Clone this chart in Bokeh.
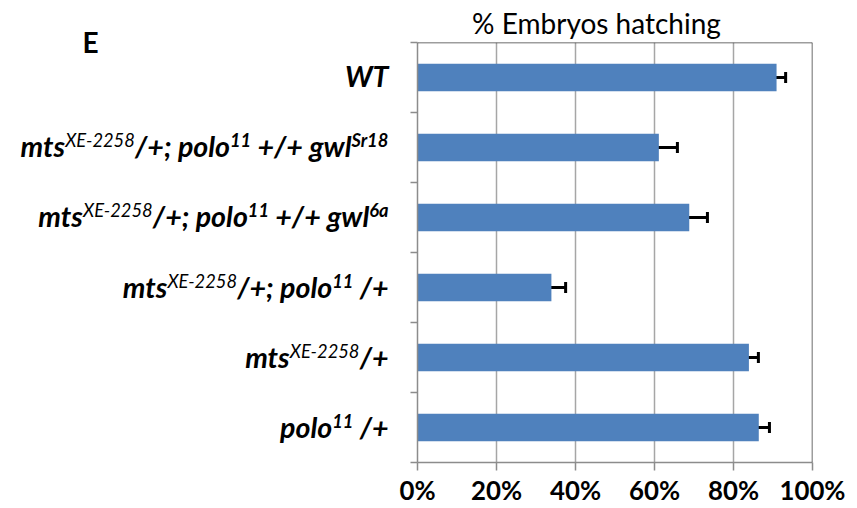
import glob
import os
import struct
import subprocess

from bokeh.core.properties import value
from bokeh.embed import file_html
from bokeh.layouts import row
from bokeh.models import (ColumnDataSource, CustomJSTickFormatter, FixedTicker,
                          NumeralTickFormatter, Range1d, Span, TeeHead, Whisker)
from bokeh.plotting import figure
from bokeh.resources import INLINE

# ---------------- data (top to bottom, as in the figure) ----------------
# each category label is a list of (text, role): "b" = normal, "s" = superscript, "sb" = bold superscript
category_parts = [
    [("WT", "b")],
    [("mts", "b"), ("XE-2258", "s"), ("/+; polo", "b"), ("11", "sb"), (" +/+ gwl", "b"), ("Sr18", "sb")],
    [("mts", "b"), ("XE-2258", "s"), ("/+; polo", "b"), ("11", "sb"), (" +/+ gwl", "b"), ("6a", "sb")],
    [("mts", "b"), ("XE-2258", "s"), ("/+; polo", "b"), ("11", "sb"), (" /+", "b")],
    [("mts", "b"), ("XE-2258", "s"), ("/+", "b")],
    [("polo", "b"), ("11", "sb"), (" /+", "b")],
]
hatching = [0.909, 0.611, 0.688, 0.339, 0.839, 0.864]
hatching_err = [0.023, 0.047, 0.046, 0.036, 0.024, 0.027]
x_ticks = [0.0, 0.2, 0.4, 0.6, 0.8, 1.0]
title_text = "% Embryos hatching"
panel_letter = "E"

FONT = "Lato"


# ---------------- font metrics (for placing superscripts) ----------------
def find_font(fc_pattern, names):
    try:
        out = subprocess.run(["fc-match", "-f", "%{file}", fc_pattern], capture_output=True,
                             text=True, timeout=10).stdout.strip()
        if out and os.path.basename(out) in names:
            return out
    except Exception:
        pass
    for root in ["/usr/share/fonts", "/usr/local/share/fonts",
                 os.path.expanduser("~/.fonts"), os.path.expanduser("~/.local/share/fonts")]:
        for n in names:
            hits = glob.glob(os.path.join(root, "**", n), recursive=True)
            if hits:
                return hits[0]
    return None


def load_metrics(path):
    data = open(path, "rb").read()
    num_tables = struct.unpack(">H", data[4:6])[0]
    tables = {}
    for i in range(num_tables):
        tag, _cs, off, ln = struct.unpack(">4sIII", data[12 + 16 * i:28 + 16 * i])
        tables[tag.decode("latin1")] = (off, ln)
    off = tables["head"][0]
    upem = struct.unpack(">H", data[off + 18:off + 20])[0]
    off = tables["hhea"][0]
    nhm = struct.unpack(">H", data[off + 34:off + 36])[0]
    off = tables["hmtx"][0]
    adv = [struct.unpack(">H", data[off + 4 * i:off + 4 * i + 2])[0] for i in range(nhm)]
    coff = tables["cmap"][0]
    nsub = struct.unpack(">H", data[coff + 2:coff + 4])[0]
    sub = None
    for i in range(nsub):
        pid, eid, so = struct.unpack(">HHI", data[coff + 4 + 8 * i:coff + 12 + 8 * i])
        fmt = struct.unpack(">H", data[coff + so:coff + so + 2])[0]
        if fmt == 4 and pid in (0, 3):
            sub = coff + so
            break
    cmap = {}
    if sub is not None:
        seg_x2 = struct.unpack(">H", data[sub + 6:sub + 8])[0]
        segs = seg_x2 // 2
        ends = struct.unpack(">%dH" % segs, data[sub + 14:sub + 14 + seg_x2])
        so = sub + 16 + seg_x2
        starts = struct.unpack(">%dH" % segs, data[so:so + seg_x2])
        do = so + seg_x2
        deltas = struct.unpack(">%dh" % segs, data[do:do + seg_x2])
        ro = do + seg_x2
        ros = struct.unpack(">%dH" % segs, data[ro:ro + seg_x2])
        for i in range(segs):
            for c in range(max(starts[i], 32), min(ends[i], 0x2FF) + 1):
                if ros[i] == 0:
                    g = (c + deltas[i]) & 0xFFFF
                else:
                    addr = ro + 2 * i + ros[i] + 2 * (c - starts[i])
                    g = struct.unpack(">H", data[addr:addr + 2])[0]
                    if g:
                        g = (g + deltas[i]) & 0xFFFF
                cmap[c] = g

    def width(s, size):
        tot = 0
        for ch in s:
            g = cmap.get(ord(ch), 0)
            tot += adv[g] if g < len(adv) else adv[-1]
        return tot * size / upem
    return width


def approx_width(s, size):
    tab = {"m": 0.82, "w": 0.75, "W": 0.95, "l": 0.25, "i": 0.25, "t": 0.35, "r": 0.37,
           "s": 0.42, " ": 0.25, "/": 0.35, "+": 0.58, ";": 0.27, "-": 0.33, "%": 0.8}
    tot = 0
    for ch in s:
        if ch in tab:
            tot += tab[ch]
        elif ch.isdigit():
            tot += 0.55
        elif ch.isupper():
            tot += 0.65
        else:
            tot += 0.53
    return tot * size


def metrics_for(fc_pattern, names):
    try:
        path = find_font(fc_pattern, names)
        if path:
            return load_metrics(path)
    except Exception:
        pass
    return approx_width


w_bold_italic = metrics_for("Lato:style=Bold Italic", ["Lato-BoldItalic.ttf", "Lato-BoldItalic.otf"])
w_italic = metrics_for("Lato:style=Italic", ["Lato-Italic.ttf", "Lato-Italic.otf"])
w_regular = metrics_for("Lato:style=Regular", ["Lato-Regular.ttf", "Lato-Regular.otf"])
w_bold = metrics_for("Lato:style=Bold", ["Lato-Bold.ttf", "Lato-Bold.otf"])

SUP_RATIO = 0.64


def part_width(text, role, base):
    if role == "b":
        return w_bold_italic(text, base)
    if role == "sb":
        return w_bold_italic(text, base * SUP_RATIO)
    return w_italic(text, base * SUP_RATIO)


# fit the fonts so texts span like the original
longest = max(category_parts, key=lambda parts: sum(part_width(t, r, 10.0) for t, r in parts))
unit_w = sum(part_width(t, r, 1.0) for t, r in longest)
BASE = max(18.0, min(30.0, 368.0 / unit_w)) if unit_w > 0 else 24.0
SUP = BASE * SUP_RATIO
TITLE_SIZE = max(18.0, min(28.0, 283.0 / max(w_regular(title_text, 1.0), 1e-6)))
TITLE_W = w_regular(title_text, TITLE_SIZE)
TICK_SIZE = max(18.0, min(30.0, 66.0 / max(w_bold("100%", 1.0), 1e-6)))

# ---------------- layout geometry (pixels) ----------------
TOTAL_W, H = 856, 507
FRAME_L, FRAME_R, FRAME_T, FRAME_B = 417, 812, 40, 462
LABEL_W = 395                       # width of the label panel on the left
MAIN_W = TOTAL_W - LABEL_W
n = len(category_parts)
y_pos = [n - 1 - i for i in range(n)]
px_per_cat = (FRAME_B - FRAME_T) / n

# ---------------- main chart ----------------
p = figure(width=MAIN_W, height=H, x_range=Range1d(0, 1), y_range=Range1d(-0.5, n - 0.5),
           output_backend="svg", toolbar_location=None,
           min_border_left=FRAME_L - LABEL_W, min_border_right=TOTAL_W - FRAME_R,
           min_border_top=FRAME_T, min_border_bottom=H - FRAME_B)
p.outline_line_color = None
p.background_fill_color = "white"
p.border_fill_color = "white"

# title, centred where the original one sits (455..738 px)
p.title.text = title_text
p.title.align = "left"
p.title.offset = max(0.0, 38 + (283 - TITLE_W) / 2)
p.title.text_font = FONT
p.title.text_font_style = "normal"
p.title.text_font_size = f"{TITLE_SIZE:.1f}px"
p.title.text_color = "black"
try:
    p.title.standoff = 6
except Exception:
    pass

# grid
p.xgrid.ticker = FixedTicker(ticks=x_ticks)
p.xgrid.grid_line_color = "#A6A6A6"
p.xgrid.grid_line_width = 1.5
p.ygrid.grid_line_color = None

# x axis
p.xaxis.ticker = FixedTicker(ticks=x_ticks)
p.xaxis.formatter = NumeralTickFormatter(format="0%")
p.xaxis.axis_line_color = "#8C8C8C"
p.xaxis.axis_line_width = 1.5
p.xaxis.major_tick_line_color = "#8C8C8C"
p.xaxis.major_tick_line_width = 1.5
p.xaxis.major_tick_in = 0
p.xaxis.major_tick_out = 8
p.xaxis.minor_tick_line_color = None
p.xaxis.major_label_text_font = FONT
p.xaxis.major_label_text_font_style = "bold"
p.xaxis.major_label_text_font_size = f"{TICK_SIZE:.1f}px"
p.xaxis.major_label_text_color = "black"
p.xaxis.major_label_standoff = 4

# y axis: ticks between categories, labels drawn in the left panel (they carry superscripts)
p.yaxis.ticker = FixedTicker(ticks=[k - 0.5 for k in range(n + 1)])
p.yaxis.formatter = CustomJSTickFormatter(code="return ''")
p.yaxis.axis_line_color = "#8C8C8C"
p.yaxis.axis_line_width = 1.5
p.yaxis.major_tick_line_color = "#8C8C8C"
p.yaxis.major_tick_line_width = 1.5
p.yaxis.major_tick_in = 0
p.yaxis.major_tick_out = 7
p.yaxis.minor_tick_line_color = None
p.yaxis.major_label_standoff = 0

# bars and error bars
src = ColumnDataSource(dict(
    y=y_pos,
    val=hatching,
    lower=[v - e for v, e in zip(hatching, hatching_err)],
    upper=[v + e for v, e in zip(hatching, hatching_err)],
))
p.hbar(y="y", left=0, right="val", height=0.39, source=src,
       fill_color="#4F81BD", line_color=None)
p.add_layout(Whisker(source=src, base="y", lower="lower", upper="upper", dimension="width",
                     line_color="black", line_width=3,
                     upper_head=TeeHead(size=11, line_color="black", line_width=3),
                     lower_head=TeeHead(size=11, line_color="black", line_width=3)))

# top / right border of the plot area
p.add_layout(Span(location=n - 0.5, dimension="width", line_color="#3C3C3C", line_width=1.5))
p.add_layout(Span(location=1.0, dimension="height", line_color="#3C3C3C", line_width=1.5))

# ---------------- label panel (same vertical scale as the chart) ----------------
lp = figure(width=LABEL_W, height=H, x_range=Range1d(0, LABEL_W), title=None,
            output_backend="svg", toolbar_location=None, x_axis_type=None, y_axis_type=None,
            min_border_left=0, min_border_right=0, min_border_top=0, min_border_bottom=0)
lp.outline_line_color = None
lp.grid.visible = False
lp.background_fill_color = "white"
lp.border_fill_color = "white"

free_frame = False
try:
    lp.frame_align = False
    p.frame_align = False
    free_frame = True
except Exception:
    free_frame = False

if free_frame:
    # label panel frame covers its whole canvas
    lp.y_range = Range1d(-0.5 - (H - FRAME_B) / px_per_cat, (n - 0.5) + FRAME_T / px_per_cat)
else:
    # frames are aligned with the chart's frame
    lp.y_range = Range1d(-0.5, n - 0.5)
y_top_px = (n - 0.5) + FRAME_T / px_per_cat   # data y of the canvas top edge

SHIFT_EM = 0.42                    # observed baseline correction of the text glyph (em)
RIGHT_EDGE = 388.0                 # right end of the category labels
BASE_DROP = 12.0 / px_per_cat      # baseline below the category centre
SUP_RAISE = 0.36 * BASE / px_per_cat
rows = {r: dict(x=[], y=[], text=[]) for r in ("b", "s", "sb")}
for i, parts in enumerate(category_parts):
    widths = [part_width(t, r, BASE) for t, r in parts]
    x0 = RIGHT_EDGE - sum(widths)
    for (t, r), w in zip(parts, widths):
        shown = t.lstrip(" ")
        lead = t[:len(t) - len(shown)]
        size = BASE if r == "b" else SUP
        d = rows[r]
        d["x"].append(x0 + part_width(lead, r, BASE))
        d["y"].append(y_pos[i] - BASE_DROP + (0 if r == "b" else SUP_RAISE)
                      + SHIFT_EM * size / px_per_cat)
        d["text"].append(shown)
        x0 += w

styles = {"b": ("bold italic", BASE), "s": ("italic", SUP), "sb": ("bold italic", SUP)}
for r, d in rows.items():
    if not d["text"]:
        continue
    style, size = styles[r]
    lp.text(x="x", y="y", text="text", source=ColumnDataSource(d),
            text_font=value(FONT), text_font_style=value(style),
            text_font_size=value(f"{size:.1f}px"), text_color="black",
            text_align=value("left"), text_baseline=value("alphabetic"))

# panel letter
LETTER_SIZE = 28
lp.text(x=[82], y=[y_top_px - (53 - SHIFT_EM * LETTER_SIZE) / px_per_cat], text=[panel_letter],
        text_font=value(FONT), text_font_style=value("bold"),
        text_font_size=value(f"{LETTER_SIZE}px"),
        text_color="black", text_align=value("left"), text_baseline=value("alphabetic"))

layout = row(lp, p)
open("out.html", "w").write(file_html(layout, INLINE))
